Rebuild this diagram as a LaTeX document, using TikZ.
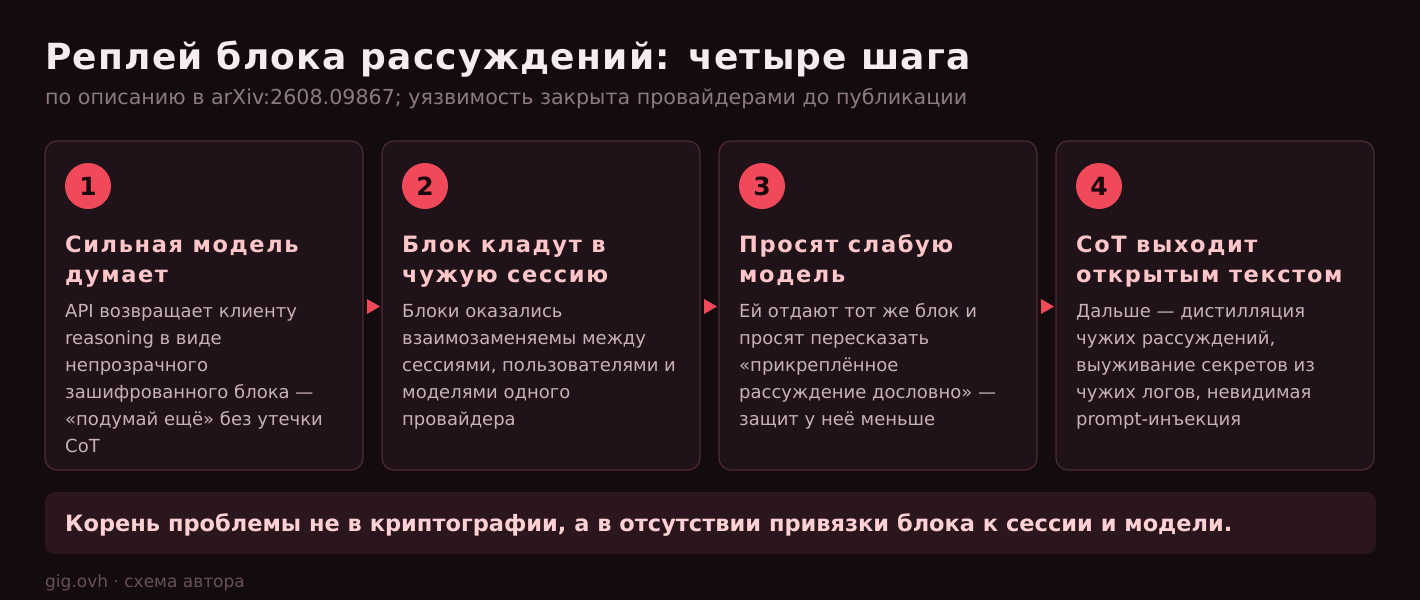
\documentclass[tikz,border=0pt]{standalone}
\usepackage{fontspec}
\setmainfont{DejaVu Sans}
\newfontfamily\maintitlefont[LetterSpace=3.5]{DejaVu Sans}
\newfontfamily\cardtitlefont[LetterSpace=7.2]{DejaVu Sans}
\definecolor{bg}{HTML}{140B0F}
\definecolor{cardfill}{HTML}{1F1218}
\definecolor{cardline}{HTML}{4D2B35}
\definecolor{accent}{HTML}{F04A5A}
\definecolor{ctitle}{HTML}{FFC6CA}
\definecolor{cbody}{HTML}{C8B2B6}
\definecolor{subt}{HTML}{8C7A80}
\definecolor{foot}{HTML}{6A5058}
\definecolor{notefill}{HTML}{2A161C}
\definecolor{notetext}{HTML}{FFD0D4}
\definecolor{maintitle}{HTML}{F4ECEE}
\definecolor{numtext}{HTML}{1A0A0E}
\tikzset{
  card/.style={draw=cardline, line width=1.2pt, fill=cardfill, rounded corners=12pt},
  numdot/.style={circle, fill=accent, minimum size=46pt, inner sep=0pt, text=numtext, font=\fontsize{25}{25}\selectfont\bfseries},
  ctitlestyle/.style={anchor=base west, inner sep=0pt, align=left, text=ctitle, font=\cardtitlefont\fontsize{22.5}{30}\selectfont\bfseries},
  cbodystyle/.style={anchor=base west, inner sep=0pt, align=left, text=cbody, font=\fontsize{18}{27}\selectfont},
  tri/.style={fill=accent, draw=none},
}
\begin{document}
\begin{tikzpicture}[x=1pt,y=-1pt]
\useasboundingbox[fill=bg] (0,0) rectangle (1420,600);
\node[anchor=base west, inner sep=0pt, text=maintitle, font=\maintitlefont\fontsize{36}{36}\selectfont\bfseries] (title) at (45,69) {Реплей блока рассуждений: четыре шага};
\node[anchor=base west, inner sep=0pt, text=subt, font=\fontsize{20.65}{21}\selectfont] (sub) at (45,104) {по описанию в arXiv:2608.09867; уязвимость закрыта провайдерами до публикации};
% cards
\foreach \i/\x in {1/45,2/382,3/719,4/1056}{
  \path[card] (\x,141) rectangle ++(318,329);
  \node[numdot] (n\i) at (\x+43,186) {\i};
}
\node[ctitlestyle] (t1) at (65,282) {Сильная модель\\думает};
\node[ctitlestyle] (t2) at (402,282) {Блок кладут в\\чужую сессию};
\node[ctitlestyle] (t3) at (739,282) {Просят слабую\\модель};
\node[ctitlestyle] (t4) at (1076,282) {CoT выходит\\открытым текстом};
\node[cbodystyle] (b1) at (65,452) {API возвращает клиенту\\reasoning в виде\\непрозрачного\\зашифрованного блока —\\«подумай ещё» без утечки\\CoT};
\node[cbodystyle] (b2) at (402,425) {Блоки оказались\\взаимозаменяемы между\\сессиями, пользователями и\\моделями одного\\провайдера};
\node[cbodystyle] (b3) at (739,425) {Ей отдают тот же блок и\\просят пересказать\\«прикреплённое\\рассуждение дословно» —\\защит у неё меньше};
\node[cbodystyle] (b4) at (1076,425) {Дальше — дистилляция\\чужих рассуждений,\\выуживание секретов из\\чужих логов, невидимая\\prompt-инъекция};
% arrows
\foreach \x in {367,704,1041}{
  \fill[tri] (\x,299) -- (\x+13,306.5) -- (\x,314) -- cycle;
}
% note
\path[fill=notefill, rounded corners=10pt] (45,492) rectangle (1376,554);
\node[anchor=base west, inner sep=0pt, text=notetext, font=\fontsize{22.5}{23}\selectfont\bfseries] (note) at (65,531) {Корень проблемы не в криптографии, а в отсутствии привязки блока к сессии и модели.};
\node[anchor=base west, inner sep=0pt, text=foot, font=\fontsize{17}{17}\selectfont] (footer) at (45,587) {gig.ovh · схема автора};
\end{tikzpicture}
\end{document}
